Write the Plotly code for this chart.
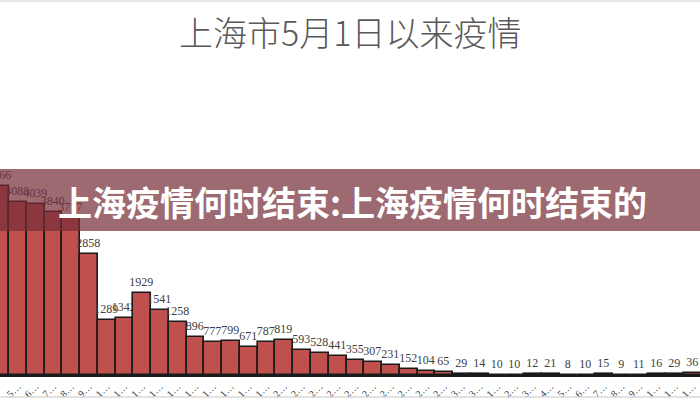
import plotly.graph_objects as go

# data
day_labels = ["4", "5", "6", "7", "8", "9",
              "10", "11", "12", "13", "14", "15", "16", "17", "18", "19",
              "20", "21", "22", "23", "24", "25", "26", "27", "28", "29",
              "30", "31",
              "1", "2", "3", "4", "5", "6", "7", "8", "9", "10", "11", "12"]
cases = [4466, 4088, 4039, 3840, 3717, 2858, 1289, 1342, 1929, 1541,
         1258, 896, 777, 799, 671, 787, 819, 593, 528, 441,
         355, 307, 231, 152, 104, 65, 29, 14, 10, 10,
         12, 21, 8, 10, 15, 9, 11, 16, 29, 36]
tick_text = [d[0] + "…" for d in day_labels]
title_text = "上海市5月1日以来疫情"
banner_text = "上海疫情何时结束:上海疫情何时结束的"

x = list(range(len(cases)))

fig = go.Figure()
fig.add_trace(go.Bar(
    x=x, y=cases,
    marker=dict(color="#c0504d", line=dict(color="#1a1a1a", width=1.6)),
    text=[str(v) for v in cases],
    textposition="outside",
    constraintext="none",
    textfont=dict(family="Liberation Serif", size=12, color="#404040"),
    cliponaxis=False,
))

fig.update_layout(
    width=700, height=400,
    margin=dict(l=0, r=0, t=0, b=25),
    paper_bgcolor="white", plot_bgcolor="white",
    bargap=0,
    showlegend=False,
    xaxis=dict(
        range=[-0.01, 39.4],
        tickmode="array", tickvals=x, ticktext=tick_text,
        tickangle=-45,
        tickfont=dict(family="Liberation Serif", size=10, color="#404040"),
        showline=True, linecolor="#1a1a1a", linewidth=1.5,
        showgrid=False, zeroline=False, ticks="",
        fixedrange=True,
    ),
    yaxis=dict(
        range=[0, 8857], visible=False, showgrid=False, zeroline=False,
        fixedrange=True,
    ),
    shapes=[
        dict(type="rect", xref="paper", yref="paper",
             x0=0, x1=1, y0=(375 - 231) / 375, y1=(375 - 169) / 375,
             fillcolor="rgba(118,45,56,0.71)", line=dict(width=0), layer="above"),
        dict(type="line", xref="paper", yref="paper",
             x0=0, x1=1, y0=-22 / 375, y1=-22 / 375,
             line=dict(color="#d9d9d9", width=1.5)),
        dict(type="line", xref="paper", yref="paper",
             x0=0, x1=1, y0=374 / 375, y1=374 / 375,
             line=dict(color="#e0e0e0", width=1.5)),
    ],
    annotations=[
        dict(text=title_text, xref="paper", yref="paper",
             x=350 / 700, y=(375 - 31) / 375, xanchor="center", yanchor="middle",
             showarrow=False,
             font=dict(family="Noto Sans CJK SC", size=34, color="#595959", weight=300)),
        dict(text=banner_text, xref="paper", yref="paper",
             x=352 / 700, y=(375 - 202) / 375, xanchor="center", yanchor="middle",
             showarrow=False,
             font=dict(family="Noto Sans CJK SC", size=34, color="white", weight=700)),
    ],
)

fig.write_html("out.html", config={"displayModeBar": False},
               post_script="document.body.style.margin='0';document.body.style.overflow='hidden';")
